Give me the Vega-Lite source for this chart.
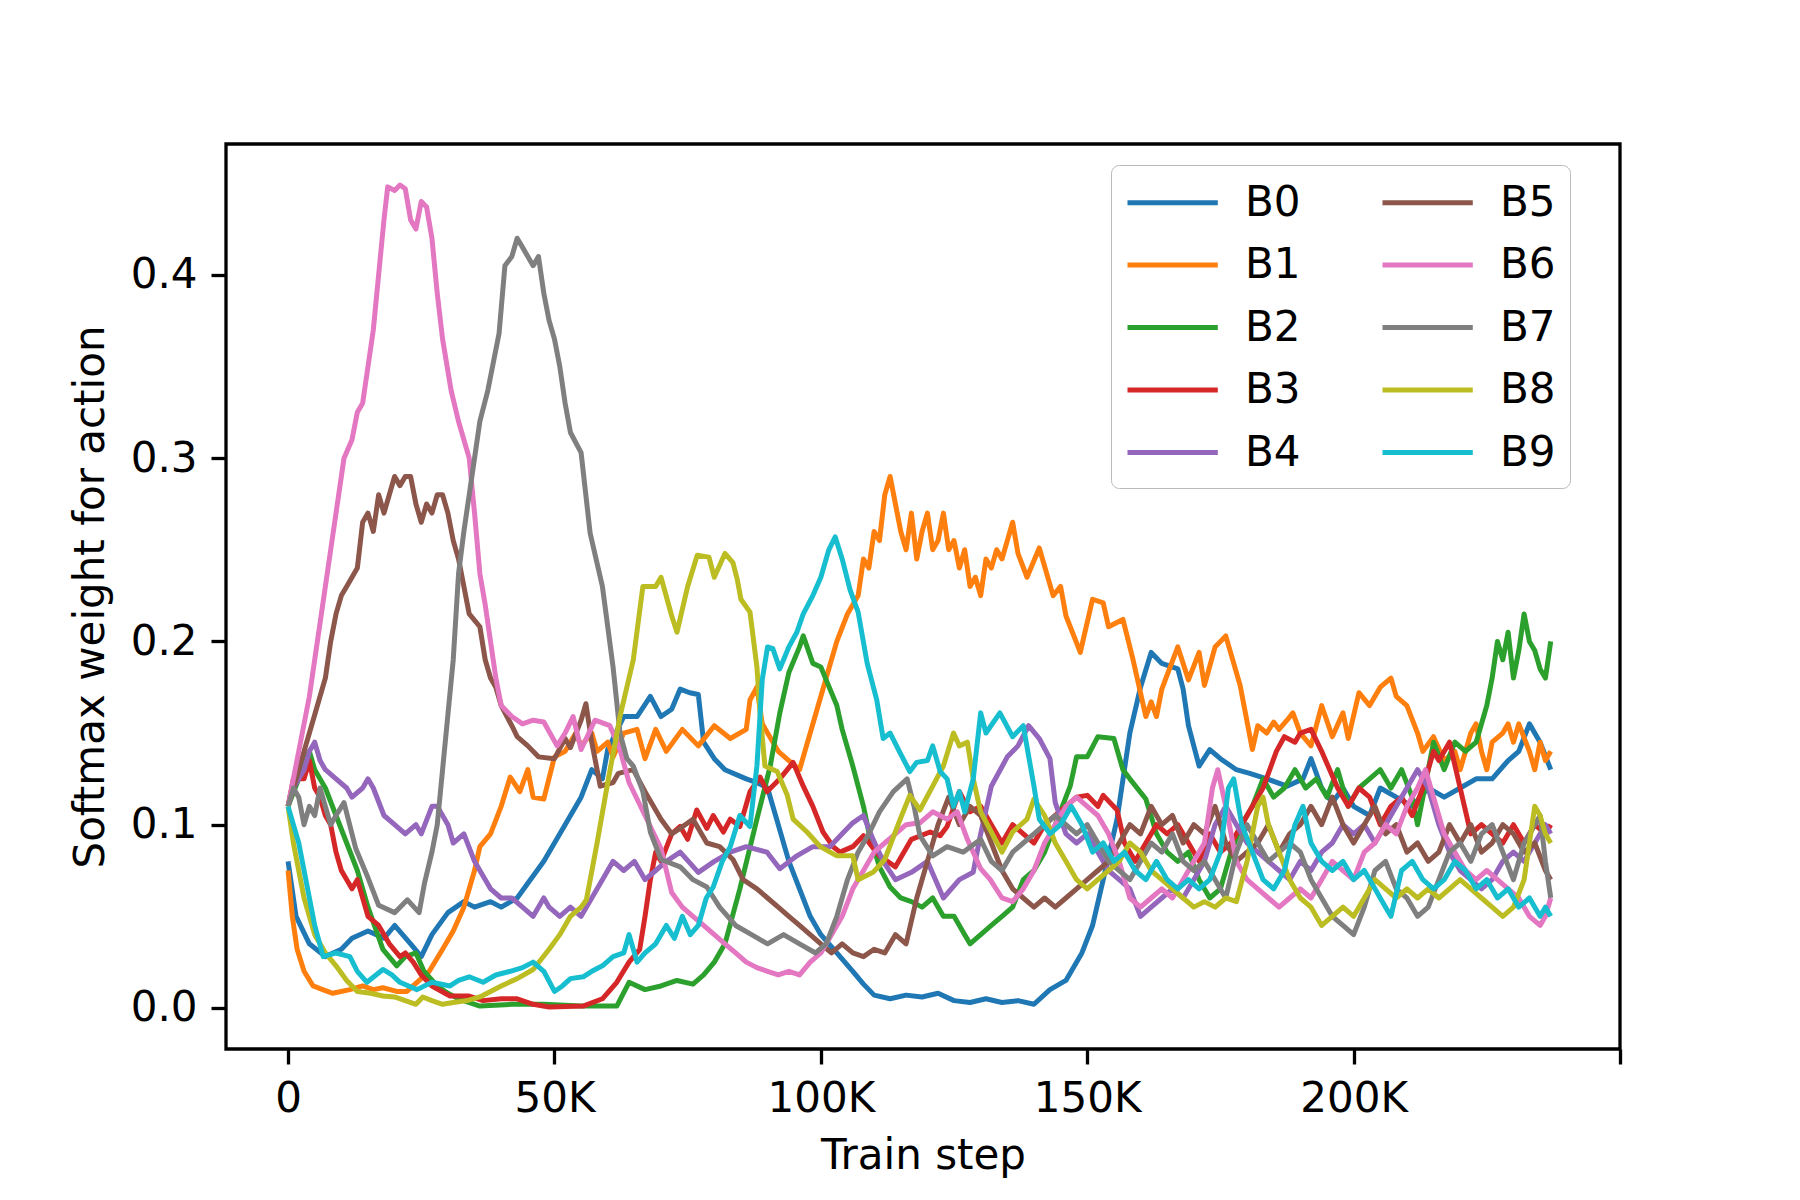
{
  "$schema": "https://vega.github.io/schema/vega-lite/v6.json",
  "width": 1394,
  "height": 905,
  "autosize": {"type": "none"},
  "padding": {"left": 226, "top": 144, "right": 180, "bottom": 151},
  "background": "white",
  "config": {
    "font": "DejaVu Sans",
    "view": {"stroke": "black", "strokeWidth": 3.3},
    "axis": {
      "grid": false,
      "domain": false,
      "tickColor": "black",
      "tickWidth": 3.3,
      "tickSize": 15,
      "labelFontSize": 42,
      "labelColor": "black",
      "labelPadding": 14,
      "titleFontSize": 42,
      "titleFontWeight": "normal",
      "titleColor": "black"
    },
    "legend": {
      "labelFontSize": 42,
      "labelColor": "black"
    }
  },
  "datasets": {
    "weights": [
      {"action":"B0","step":0,"weight":0.08},{"action":"B0","step":1.5,"weight":0.05},{"action":"B0","step":4,"weight":0.035},{"action":"B0","step":7,"weight":0.028},{"action":"B0","step":10,"weight":0.032},{"action":"B0","step":12,"weight":0.038},{"action":"B0","step":15,"weight":0.042},{"action":"B0","step":18,"weight":0.038},{"action":"B0","step":20,"weight":0.045},{"action":"B0","step":23,"weight":0.035},{"action":"B0","step":25,"weight":0.028},{"action":"B0","step":27,"weight":0.04},{"action":"B0","step":30,"weight":0.052},{"action":"B0","step":33,"weight":0.058},{"action":"B0","step":35,"weight":0.055},{"action":"B0","step":38,"weight":0.058},{"action":"B0","step":40,"weight":0.055},{"action":"B0","step":43,"weight":0.06},{"action":"B0","step":45,"weight":0.068},{"action":"B0","step":48,"weight":0.08},{"action":"B0","step":50,"weight":0.09},{"action":"B0","step":52,"weight":0.1},{"action":"B0","step":55,"weight":0.115},{"action":"B0","step":57,"weight":0.13},{"action":"B0","step":59,"weight":0.125},{"action":"B0","step":60,"weight":0.141},{"action":"B0","step":63,"weight":0.159},{"action":"B0","step":65.5,"weight":0.159},{"action":"B0","step":68,"weight":0.17},{"action":"B0","step":70,"weight":0.159},{"action":"B0","step":72,"weight":0.163},{"action":"B0","step":73.6,"weight":0.174},{"action":"B0","step":75.4,"weight":0.172},{"action":"B0","step":77,"weight":0.171},{"action":"B0","step":78,"weight":0.145},{"action":"B0","step":80,"weight":0.136},{"action":"B0","step":82,"weight":0.13},{"action":"B0","step":86,"weight":0.125},{"action":"B0","step":88,"weight":0.123},{"action":"B0","step":90,"weight":0.12},{"action":"B0","step":92,"weight":0.1},{"action":"B0","step":94,"weight":0.08},{"action":"B0","step":96,"weight":0.065},{"action":"B0","step":98,"weight":0.05},{"action":"B0","step":100,"weight":0.04},{"action":"B0","step":103,"weight":0.03},{"action":"B0","step":106,"weight":0.02},{"action":"B0","step":108,"weight":0.013},{"action":"B0","step":110,"weight":0.007},{"action":"B0","step":113,"weight":0.005},{"action":"B0","step":116,"weight":0.007},{"action":"B0","step":119,"weight":0.006},{"action":"B0","step":122,"weight":0.008},{"action":"B0","step":125,"weight":0.004},{"action":"B0","step":128,"weight":0.003},{"action":"B0","step":131,"weight":0.005},{"action":"B0","step":134,"weight":0.003},{"action":"B0","step":137,"weight":0.004},{"action":"B0","step":140,"weight":0.002},{"action":"B0","step":143,"weight":0.01},{"action":"B0","step":146,"weight":0.015},{"action":"B0","step":149,"weight":0.03},{"action":"B0","step":151,"weight":0.045},{"action":"B0","step":153,"weight":0.07},{"action":"B0","step":155.6,"weight":0.103},{"action":"B0","step":158,"weight":0.15},{"action":"B0","step":160,"weight":0.175},{"action":"B0","step":162,"weight":0.194},{"action":"B0","step":164,"weight":0.188},{"action":"B0","step":167,"weight":0.185},{"action":"B0","step":168,"weight":0.174},{"action":"B0","step":169,"weight":0.154},{"action":"B0","step":171,"weight":0.132},{"action":"B0","step":173,"weight":0.141},{"action":"B0","step":175,"weight":0.136},{"action":"B0","step":178,"weight":0.13},{"action":"B0","step":180.5,"weight":0.128},{"action":"B0","step":183.7,"weight":0.125},{"action":"B0","step":187.5,"weight":0.121},{"action":"B0","step":190.5,"weight":0.125},{"action":"B0","step":192,"weight":0.136},{"action":"B0","step":194,"weight":0.12},{"action":"B0","step":196,"weight":0.112},{"action":"B0","step":198,"weight":0.12},{"action":"B0","step":200,"weight":0.11},{"action":"B0","step":203,"weight":0.105},{"action":"B0","step":205,"weight":0.12},{"action":"B0","step":208,"weight":0.115},{"action":"B0","step":211,"weight":0.11},{"action":"B0","step":214,"weight":0.12},{"action":"B0","step":217,"weight":0.115},{"action":"B0","step":220,"weight":0.12},{"action":"B0","step":223,"weight":0.125},{"action":"B0","step":226,"weight":0.125},{"action":"B0","step":229,"weight":0.135},{"action":"B0","step":231,"weight":0.14},{"action":"B0","step":233,"weight":0.155},{"action":"B0","step":235,"weight":0.145},{"action":"B0","step":237,"weight":0.13},

      {"action":"B1","step":0,"weight":0.075},{"action":"B1","step":0.8,"weight":0.05},{"action":"B1","step":1.7,"weight":0.032},{"action":"B1","step":3,"weight":0.02},{"action":"B1","step":4.7,"weight":0.012},{"action":"B1","step":6.5,"weight":0.01},{"action":"B1","step":8.4,"weight":0.008},{"action":"B1","step":11.6,"weight":0.01},{"action":"B1","step":14,"weight":0.012},{"action":"B1","step":16,"weight":0.01},{"action":"B1","step":17.8,"weight":0.011},{"action":"B1","step":20.4,"weight":0.009},{"action":"B1","step":22.3,"weight":0.009},{"action":"B1","step":24.2,"weight":0.014},{"action":"B1","step":26.5,"weight":0.02},{"action":"B1","step":29,"weight":0.032},{"action":"B1","step":31,"weight":0.042},{"action":"B1","step":33,"weight":0.055},{"action":"B1","step":35,"weight":0.075},{"action":"B1","step":36,"weight":0.088},{"action":"B1","step":38,"weight":0.095},{"action":"B1","step":40,"weight":0.11},{"action":"B1","step":41.7,"weight":0.126},{"action":"B1","step":43.5,"weight":0.118},{"action":"B1","step":45,"weight":0.13},{"action":"B1","step":46,"weight":0.115},{"action":"B1","step":48,"weight":0.114},{"action":"B1","step":50,"weight":0.137},{"action":"B1","step":52,"weight":0.14},{"action":"B1","step":54,"weight":0.15},{"action":"B1","step":55,"weight":0.143},{"action":"B1","step":57,"weight":0.15},{"action":"B1","step":58,"weight":0.14},{"action":"B1","step":60,"weight":0.145},{"action":"B1","step":61,"weight":0.137},{"action":"B1","step":63,"weight":0.15},{"action":"B1","step":65.5,"weight":0.152},{"action":"B1","step":67,"weight":0.136},{"action":"B1","step":69,"weight":0.152},{"action":"B1","step":71,"weight":0.14},{"action":"B1","step":74,"weight":0.152},{"action":"B1","step":77,"weight":0.143},{"action":"B1","step":80,"weight":0.154},{"action":"B1","step":83,"weight":0.147},{"action":"B1","step":86,"weight":0.152},{"action":"B1","step":86.7,"weight":0.168},{"action":"B1","step":88,"weight":0.175},{"action":"B1","step":89,"weight":0.155},{"action":"B1","step":90,"weight":0.15},{"action":"B1","step":92,"weight":0.14},{"action":"B1","step":94,"weight":0.135},{"action":"B1","step":96,"weight":0.13},{"action":"B1","step":97,"weight":0.14},{"action":"B1","step":99,"weight":0.16},{"action":"B1","step":101,"weight":0.18},{"action":"B1","step":103,"weight":0.2},{"action":"B1","step":105,"weight":0.215},{"action":"B1","step":107,"weight":0.225},{"action":"B1","step":108,"weight":0.245},{"action":"B1","step":109,"weight":0.24},{"action":"B1","step":110,"weight":0.26},{"action":"B1","step":111,"weight":0.255},{"action":"B1","step":112,"weight":0.28},{"action":"B1","step":113,"weight":0.29},{"action":"B1","step":114,"weight":0.275},{"action":"B1","step":115,"weight":0.26},{"action":"B1","step":116,"weight":0.25},{"action":"B1","step":117,"weight":0.27},{"action":"B1","step":118,"weight":0.245},{"action":"B1","step":119,"weight":0.26},{"action":"B1","step":120,"weight":0.27},{"action":"B1","step":121,"weight":0.25},{"action":"B1","step":122,"weight":0.255},{"action":"B1","step":123,"weight":0.27},{"action":"B1","step":124,"weight":0.25},{"action":"B1","step":125,"weight":0.255},{"action":"B1","step":126,"weight":0.24},{"action":"B1","step":127,"weight":0.25},{"action":"B1","step":128,"weight":0.23},{"action":"B1","step":129,"weight":0.235},{"action":"B1","step":130,"weight":0.225},{"action":"B1","step":131,"weight":0.245},{"action":"B1","step":132,"weight":0.24},{"action":"B1","step":133,"weight":0.25},{"action":"B1","step":134,"weight":0.245},{"action":"B1","step":135,"weight":0.255},{"action":"B1","step":136,"weight":0.265},{"action":"B1","step":137,"weight":0.248},{"action":"B1","step":138.7,"weight":0.235},{"action":"B1","step":141,"weight":0.251},{"action":"B1","step":143.6,"weight":0.225},{"action":"B1","step":145,"weight":0.23},{"action":"B1","step":146,"weight":0.214},{"action":"B1","step":148.7,"weight":0.194},{"action":"B1","step":151,"weight":0.223},{"action":"B1","step":153,"weight":0.221},{"action":"B1","step":154,"weight":0.208},{"action":"B1","step":156.7,"weight":0.212},{"action":"B1","step":158.6,"weight":0.19},{"action":"B1","step":161,"weight":0.159},{"action":"B1","step":162,"weight":0.167},{"action":"B1","step":163,"weight":0.159},{"action":"B1","step":164,"weight":0.174},{"action":"B1","step":167,"weight":0.197},{"action":"B1","step":169,"weight":0.179},{"action":"B1","step":171,"weight":0.194},{"action":"B1","step":172,"weight":0.176},{"action":"B1","step":174,"weight":0.197},{"action":"B1","step":176,"weight":0.203},{"action":"B1","step":178.7,"weight":0.176},{"action":"B1","step":181,"weight":0.141},{"action":"B1","step":182,"weight":0.154},{"action":"B1","step":183.7,"weight":0.15},{"action":"B1","step":185,"weight":0.156},{"action":"B1","step":186,"weight":0.152},{"action":"B1","step":187.5,"weight":0.157},{"action":"B1","step":188.6,"weight":0.161},{"action":"B1","step":190,"weight":0.15},{"action":"B1","step":192,"weight":0.143},{"action":"B1","step":194,"weight":0.165},{"action":"B1","step":196,"weight":0.148},{"action":"B1","step":198,"weight":0.161},{"action":"B1","step":199,"weight":0.147},{"action":"B1","step":201,"weight":0.172},{"action":"B1","step":203,"weight":0.165},{"action":"B1","step":205,"weight":0.175},{"action":"B1","step":207,"weight":0.18},{"action":"B1","step":208,"weight":0.17},{"action":"B1","step":210,"weight":0.165},{"action":"B1","step":212,"weight":0.15},{"action":"B1","step":213,"weight":0.14},{"action":"B1","step":215,"weight":0.148},{"action":"B1","step":217,"weight":0.135},{"action":"B1","step":219,"weight":0.14},{"action":"B1","step":220,"weight":0.13},{"action":"B1","step":222,"weight":0.15},{"action":"B1","step":223,"weight":0.155},{"action":"B1","step":224,"weight":0.14},{"action":"B1","step":225,"weight":0.13},{"action":"B1","step":226,"weight":0.145},{"action":"B1","step":228,"weight":0.15},{"action":"B1","step":229,"weight":0.155},{"action":"B1","step":230,"weight":0.145},{"action":"B1","step":231,"weight":0.155},{"action":"B1","step":233,"weight":0.14},{"action":"B1","step":234,"weight":0.13},{"action":"B1","step":235,"weight":0.145},{"action":"B1","step":236,"weight":0.135},{"action":"B1","step":237,"weight":0.14},

      {"action":"B2","step":0,"weight":0.11},{"action":"B2","step":2,"weight":0.125},{"action":"B2","step":3,"weight":0.135},{"action":"B2","step":4,"weight":0.14},{"action":"B2","step":5,"weight":0.13},{"action":"B2","step":7,"weight":0.12},{"action":"B2","step":9,"weight":0.105},{"action":"B2","step":11,"weight":0.09},{"action":"B2","step":13,"weight":0.075},{"action":"B2","step":15,"weight":0.055},{"action":"B2","step":17.8,"weight":0.032},{"action":"B2","step":20.4,"weight":0.023},{"action":"B2","step":22,"weight":0.028},{"action":"B2","step":24,"weight":0.03},{"action":"B2","step":25.5,"weight":0.02},{"action":"B2","step":28,"weight":0.012},{"action":"B2","step":30,"weight":0.008},{"action":"B2","step":32,"weight":0.005},{"action":"B2","step":36,"weight":0.001},{"action":"B2","step":42,"weight":0.002},{"action":"B2","step":48,"weight":0.002},{"action":"B2","step":55,"weight":0.001},{"action":"B2","step":61.7,"weight":0.001},{"action":"B2","step":64,"weight":0.014},{"action":"B2","step":67,"weight":0.01},{"action":"B2","step":70,"weight":0.012},{"action":"B2","step":73,"weight":0.015},{"action":"B2","step":76,"weight":0.013},{"action":"B2","step":78,"weight":0.018},{"action":"B2","step":80,"weight":0.025},{"action":"B2","step":82,"weight":0.035},{"action":"B2","step":84.8,"weight":0.065},{"action":"B2","step":88,"weight":0.103},{"action":"B2","step":90.5,"weight":0.132},{"action":"B2","step":92.3,"weight":0.161},{"action":"B2","step":94,"weight":0.183},{"action":"B2","step":96,"weight":0.197},{"action":"B2","step":96.7,"weight":0.203},{"action":"B2","step":98.5,"weight":0.188},{"action":"B2","step":100,"weight":0.186},{"action":"B2","step":101,"weight":0.179},{"action":"B2","step":103,"weight":0.165},{"action":"B2","step":104,"weight":0.152},{"action":"B2","step":106,"weight":0.132},{"action":"B2","step":108,"weight":0.11},{"action":"B2","step":109,"weight":0.096},{"action":"B2","step":111,"weight":0.077},{"action":"B2","step":113,"weight":0.066},{"action":"B2","step":115,"weight":0.06},{"action":"B2","step":117,"weight":0.058},{"action":"B2","step":119,"weight":0.055},{"action":"B2","step":121,"weight":0.06},{"action":"B2","step":123,"weight":0.05},{"action":"B2","step":125,"weight":0.05},{"action":"B2","step":127,"weight":0.04},{"action":"B2","step":128,"weight":0.035},{"action":"B2","step":130,"weight":0.04},{"action":"B2","step":132,"weight":0.045},{"action":"B2","step":134,"weight":0.05},{"action":"B2","step":136,"weight":0.055},{"action":"B2","step":138,"weight":0.07},{"action":"B2","step":140,"weight":0.075},{"action":"B2","step":142,"weight":0.085},{"action":"B2","step":144,"weight":0.1},{"action":"B2","step":146.8,"weight":0.121},{"action":"B2","step":148,"weight":0.137},{"action":"B2","step":150,"weight":0.137},{"action":"B2","step":152,"weight":0.148},{"action":"B2","step":155,"weight":0.147},{"action":"B2","step":156.7,"weight":0.13},{"action":"B2","step":158,"weight":0.125},{"action":"B2","step":161,"weight":0.114},{"action":"B2","step":163,"weight":0.095},{"action":"B2","step":165,"weight":0.085},{"action":"B2","step":167,"weight":0.08},{"action":"B2","step":169,"weight":0.085},{"action":"B2","step":171,"weight":0.07},{"action":"B2","step":173,"weight":0.06},{"action":"B2","step":175,"weight":0.065},{"action":"B2","step":177,"weight":0.085},{"action":"B2","step":179,"weight":0.1},{"action":"B2","step":181,"weight":0.11},{"action":"B2","step":183,"weight":0.125},{"action":"B2","step":185,"weight":0.115},{"action":"B2","step":187,"weight":0.12},{"action":"B2","step":189,"weight":0.13},{"action":"B2","step":191,"weight":0.12},{"action":"B2","step":193,"weight":0.125},{"action":"B2","step":195,"weight":0.115},{"action":"B2","step":197,"weight":0.13},{"action":"B2","step":199,"weight":0.11},{"action":"B2","step":201,"weight":0.12},{"action":"B2","step":203,"weight":0.125},{"action":"B2","step":205,"weight":0.13},{"action":"B2","step":207,"weight":0.12},{"action":"B2","step":209,"weight":0.13},{"action":"B2","step":211,"weight":0.115},{"action":"B2","step":212,"weight":0.1},{"action":"B2","step":214,"weight":0.13},{"action":"B2","step":215,"weight":0.145},{"action":"B2","step":217,"weight":0.13},{"action":"B2","step":219,"weight":0.145},{"action":"B2","step":221,"weight":0.14},{"action":"B2","step":223,"weight":0.145},{"action":"B2","step":225,"weight":0.165},{"action":"B2","step":226,"weight":0.18},{"action":"B2","step":227,"weight":0.2},{"action":"B2","step":228,"weight":0.19},{"action":"B2","step":229,"weight":0.205},{"action":"B2","step":230,"weight":0.18},{"action":"B2","step":231,"weight":0.195},{"action":"B2","step":232,"weight":0.215},{"action":"B2","step":233,"weight":0.2},{"action":"B2","step":234,"weight":0.195},{"action":"B2","step":235,"weight":0.185},{"action":"B2","step":236,"weight":0.18},{"action":"B2","step":237,"weight":0.2},

      {"action":"B3","step":0,"weight":0.11},{"action":"B3","step":1,"weight":0.125},{"action":"B3","step":3,"weight":0.125},{"action":"B3","step":4,"weight":0.135},{"action":"B3","step":5,"weight":0.12},{"action":"B3","step":6,"weight":0.115},{"action":"B3","step":7,"weight":0.105},{"action":"B3","step":8,"weight":0.1},{"action":"B3","step":9,"weight":0.085},{"action":"B3","step":10,"weight":0.075},{"action":"B3","step":12,"weight":0.065},{"action":"B3","step":13,"weight":0.07},{"action":"B3","step":15,"weight":0.05},{"action":"B3","step":17,"weight":0.045},{"action":"B3","step":19,"weight":0.035},{"action":"B3","step":21,"weight":0.028},{"action":"B3","step":22,"weight":0.03},{"action":"B3","step":23.5,"weight":0.025},{"action":"B3","step":25,"weight":0.018},{"action":"B3","step":27,"weight":0.012},{"action":"B3","step":30.4,"weight":0.0065},{"action":"B3","step":34,"weight":0.0065},{"action":"B3","step":36.6,"weight":0.004},{"action":"B3","step":40,"weight":0.005},{"action":"B3","step":43,"weight":0.005},{"action":"B3","step":46,"weight":0.002},{"action":"B3","step":49,"weight":0.0005},{"action":"B3","step":55.4,"weight":0.001},{"action":"B3","step":59,"weight":0.005},{"action":"B3","step":61.7,"weight":0.014},{"action":"B3","step":64,"weight":0.025},{"action":"B3","step":66,"weight":0.032},{"action":"B3","step":67,"weight":0.05},{"action":"B3","step":68,"weight":0.07},{"action":"B3","step":69,"weight":0.085},{"action":"B3","step":70,"weight":0.08},{"action":"B3","step":72,"weight":0.095},{"action":"B3","step":73.6,"weight":0.099},{"action":"B3","step":75,"weight":0.092},{"action":"B3","step":76.7,"weight":0.108},{"action":"B3","step":78.6,"weight":0.098},{"action":"B3","step":79.8,"weight":0.105},{"action":"B3","step":81.7,"weight":0.096},{"action":"B3","step":83,"weight":0.103},{"action":"B3","step":84.8,"weight":0.099},{"action":"B3","step":86.7,"weight":0.118},{"action":"B3","step":88.6,"weight":0.126},{"action":"B3","step":89.9,"weight":0.118},{"action":"B3","step":92.3,"weight":0.125},{"action":"B3","step":94.8,"weight":0.134},{"action":"B3","step":96.7,"weight":0.121},{"action":"B3","step":98.5,"weight":0.11},{"action":"B3","step":100.4,"weight":0.096},{"action":"B3","step":102.3,"weight":0.088},{"action":"B3","step":103.6,"weight":0.085},{"action":"B3","step":106,"weight":0.088},{"action":"B3","step":108,"weight":0.094},{"action":"B3","step":111,"weight":0.083},{"action":"B3","step":114,"weight":0.077},{"action":"B3","step":117,"weight":0.092},{"action":"B3","step":120.5,"weight":0.096},{"action":"B3","step":122.4,"weight":0.094},{"action":"B3","step":123.7,"weight":0.099},{"action":"B3","step":126,"weight":0.118},{"action":"B3","step":128,"weight":0.107},{"action":"B3","step":130,"weight":0.11},{"action":"B3","step":132,"weight":0.1},{"action":"B3","step":134,"weight":0.09},{"action":"B3","step":136,"weight":0.1},{"action":"B3","step":138,"weight":0.095},{"action":"B3","step":140,"weight":0.09},{"action":"B3","step":142,"weight":0.1},{"action":"B3","step":144,"weight":0.105},{"action":"B3","step":146,"weight":0.11},{"action":"B3","step":148,"weight":0.115},{"action":"B3","step":150,"weight":0.116},{"action":"B3","step":152,"weight":0.11},{"action":"B3","step":153,"weight":0.116},{"action":"B3","step":155.6,"weight":0.108},{"action":"B3","step":157,"weight":0.09},{"action":"B3","step":159,"weight":0.08},{"action":"B3","step":161,"weight":0.09},{"action":"B3","step":163,"weight":0.1},{"action":"B3","step":165,"weight":0.095},{"action":"B3","step":167,"weight":0.1},{"action":"B3","step":169,"weight":0.09},{"action":"B3","step":171,"weight":0.08},{"action":"B3","step":173,"weight":0.095},{"action":"B3","step":175,"weight":0.085},{"action":"B3","step":177,"weight":0.09},{"action":"B3","step":179,"weight":0.1},{"action":"B3","step":181,"weight":0.11},{"action":"B3","step":183,"weight":0.12},{"action":"B3","step":185.5,"weight":0.14},{"action":"B3","step":187,"weight":0.148},{"action":"B3","step":189,"weight":0.145},{"action":"B3","step":190,"weight":0.15},{"action":"B3","step":192,"weight":0.152},{"action":"B3","step":194,"weight":0.14},{"action":"B3","step":197,"weight":0.12},{"action":"B3","step":199,"weight":0.11},{"action":"B3","step":201,"weight":0.12},{"action":"B3","step":203,"weight":0.115},{"action":"B3","step":205,"weight":0.1},{"action":"B3","step":207,"weight":0.11},{"action":"B3","step":209,"weight":0.115},{"action":"B3","step":211,"weight":0.105},{"action":"B3","step":213,"weight":0.12},{"action":"B3","step":215,"weight":0.14},{"action":"B3","step":216,"weight":0.135},{"action":"B3","step":218,"weight":0.145},{"action":"B3","step":220,"weight":0.12},{"action":"B3","step":222,"weight":0.095},{"action":"B3","step":224,"weight":0.1},{"action":"B3","step":226,"weight":0.095},{"action":"B3","step":228,"weight":0.09},{"action":"B3","step":230,"weight":0.1},{"action":"B3","step":232,"weight":0.09},{"action":"B3","step":234,"weight":0.1},{"action":"B3","step":236,"weight":0.095},{"action":"B3","step":237,"weight":0.1},

      {"action":"B4","step":0,"weight":0.11},{"action":"B4","step":1,"weight":0.12},{"action":"B4","step":3,"weight":0.13},{"action":"B4","step":4,"weight":0.14},{"action":"B4","step":5,"weight":0.145},{"action":"B4","step":6,"weight":0.135},{"action":"B4","step":7,"weight":0.13},{"action":"B4","step":9,"weight":0.125},{"action":"B4","step":11,"weight":0.12},{"action":"B4","step":12,"weight":0.115},{"action":"B4","step":14,"weight":0.12},{"action":"B4","step":15,"weight":0.125},{"action":"B4","step":16,"weight":0.12},{"action":"B4","step":18,"weight":0.105},{"action":"B4","step":20,"weight":0.1},{"action":"B4","step":22,"weight":0.095},{"action":"B4","step":24,"weight":0.1},{"action":"B4","step":25,"weight":0.095},{"action":"B4","step":27,"weight":0.11},{"action":"B4","step":28,"weight":0.11},{"action":"B4","step":30,"weight":0.1},{"action":"B4","step":31,"weight":0.09},{"action":"B4","step":33,"weight":0.095},{"action":"B4","step":35,"weight":0.08},{"action":"B4","step":36,"weight":0.075},{"action":"B4","step":38,"weight":0.065},{"action":"B4","step":40,"weight":0.06},{"action":"B4","step":42,"weight":0.06},{"action":"B4","step":44,"weight":0.055},{"action":"B4","step":46,"weight":0.05},{"action":"B4","step":48,"weight":0.06},{"action":"B4","step":49,"weight":0.055},{"action":"B4","step":51,"weight":0.05},{"action":"B4","step":53,"weight":0.055},{"action":"B4","step":55,"weight":0.05},{"action":"B4","step":57,"weight":0.06},{"action":"B4","step":59,"weight":0.07},{"action":"B4","step":61,"weight":0.08},{"action":"B4","step":63,"weight":0.075},{"action":"B4","step":65,"weight":0.08},{"action":"B4","step":67,"weight":0.07},{"action":"B4","step":69,"weight":0.075},{"action":"B4","step":71,"weight":0.08},{"action":"B4","step":73.6,"weight":0.085},{"action":"B4","step":77,"weight":0.074},{"action":"B4","step":80,"weight":0.08},{"action":"B4","step":83,"weight":0.085},{"action":"B4","step":86,"weight":0.088},{"action":"B4","step":89.9,"weight":0.085},{"action":"B4","step":92.3,"weight":0.076},{"action":"B4","step":95.5,"weight":0.083},{"action":"B4","step":98.5,"weight":0.088},{"action":"B4","step":101.7,"weight":0.088},{"action":"B4","step":104,"weight":0.095},{"action":"B4","step":106,"weight":0.101},{"action":"B4","step":108,"weight":0.105},{"action":"B4","step":109.8,"weight":0.092},{"action":"B4","step":111.7,"weight":0.08},{"action":"B4","step":114,"weight":0.07},{"action":"B4","step":117,"weight":0.074},{"action":"B4","step":120,"weight":0.08},{"action":"B4","step":123,"weight":0.06},{"action":"B4","step":126,"weight":0.07},{"action":"B4","step":128.6,"weight":0.074},{"action":"B4","step":130,"weight":0.095},{"action":"B4","step":132,"weight":0.121},{"action":"B4","step":135,"weight":0.137},{"action":"B4","step":137,"weight":0.143},{"action":"B4","step":139,"weight":0.154},{"action":"B4","step":141,"weight":0.147},{"action":"B4","step":143,"weight":0.136},{"action":"B4","step":144,"weight":0.112},{"action":"B4","step":146,"weight":0.095},{"action":"B4","step":148,"weight":0.09},{"action":"B4","step":150,"weight":0.095},{"action":"B4","step":152,"weight":0.085},{"action":"B4","step":154,"weight":0.075},{"action":"B4","step":156,"weight":0.07},{"action":"B4","step":158,"weight":0.065},{"action":"B4","step":160,"weight":0.05},{"action":"B4","step":162,"weight":0.055},{"action":"B4","step":164,"weight":0.06},{"action":"B4","step":166,"weight":0.065},{"action":"B4","step":168,"weight":0.06},{"action":"B4","step":170,"weight":0.07},{"action":"B4","step":172,"weight":0.08},{"action":"B4","step":174,"weight":0.1},{"action":"B4","step":176,"weight":0.11},{"action":"B4","step":178,"weight":0.1},{"action":"B4","step":180,"weight":0.09},{"action":"B4","step":182,"weight":0.085},{"action":"B4","step":184,"weight":0.08},{"action":"B4","step":186,"weight":0.075},{"action":"B4","step":188,"weight":0.07},{"action":"B4","step":190,"weight":0.08},{"action":"B4","step":192,"weight":0.075},{"action":"B4","step":194,"weight":0.085},{"action":"B4","step":196,"weight":0.09},{"action":"B4","step":198,"weight":0.1},{"action":"B4","step":200,"weight":0.095},{"action":"B4","step":202,"weight":0.1},{"action":"B4","step":204,"weight":0.09},{"action":"B4","step":206,"weight":0.1},{"action":"B4","step":208,"weight":0.11},{"action":"B4","step":210,"weight":0.12},{"action":"B4","step":212,"weight":0.13},{"action":"B4","step":214,"weight":0.12},{"action":"B4","step":216,"weight":0.1},{"action":"B4","step":218,"weight":0.085},{"action":"B4","step":220,"weight":0.075},{"action":"B4","step":222,"weight":0.07},{"action":"B4","step":224,"weight":0.065},{"action":"B4","step":226,"weight":0.07},{"action":"B4","step":228,"weight":0.08},{"action":"B4","step":230,"weight":0.085},{"action":"B4","step":232,"weight":0.08},{"action":"B4","step":234,"weight":0.09},{"action":"B4","step":236,"weight":0.1},{"action":"B4","step":237,"weight":0.095},

      {"action":"B5","step":0,"weight":0.11},{"action":"B5","step":2,"weight":0.13},{"action":"B5","step":4,"weight":0.15},{"action":"B5","step":5,"weight":0.16},{"action":"B5","step":7,"weight":0.18},{"action":"B5","step":8,"weight":0.2},{"action":"B5","step":9,"weight":0.215},{"action":"B5","step":10,"weight":0.225},{"action":"B5","step":11,"weight":0.23},{"action":"B5","step":12,"weight":0.235},{"action":"B5","step":13,"weight":0.24},{"action":"B5","step":14,"weight":0.265},{"action":"B5","step":15,"weight":0.27},{"action":"B5","step":16,"weight":0.26},{"action":"B5","step":17,"weight":0.28},{"action":"B5","step":18,"weight":0.27},{"action":"B5","step":19,"weight":0.28},{"action":"B5","step":20,"weight":0.29},{"action":"B5","step":21,"weight":0.285},{"action":"B5","step":22,"weight":0.29},{"action":"B5","step":23,"weight":0.29},{"action":"B5","step":24,"weight":0.275},{"action":"B5","step":25,"weight":0.265},{"action":"B5","step":26,"weight":0.275},{"action":"B5","step":27,"weight":0.27},{"action":"B5","step":28,"weight":0.28},{"action":"B5","step":29,"weight":0.28},{"action":"B5","step":30,"weight":0.27},{"action":"B5","step":31,"weight":0.255},{"action":"B5","step":32,"weight":0.245},{"action":"B5","step":33,"weight":0.23},{"action":"B5","step":34,"weight":0.215},{"action":"B5","step":36,"weight":0.208},{"action":"B5","step":37,"weight":0.19},{"action":"B5","step":38,"weight":0.18},{"action":"B5","step":39,"weight":0.175},{"action":"B5","step":40,"weight":0.165},{"action":"B5","step":42,"weight":0.154},{"action":"B5","step":43,"weight":0.148},{"action":"B5","step":45,"weight":0.143},{"action":"B5","step":47,"weight":0.137},{"action":"B5","step":50,"weight":0.136},{"action":"B5","step":52,"weight":0.147},{"action":"B5","step":53,"weight":0.142},{"action":"B5","step":55,"weight":0.157},{"action":"B5","step":55.9,"weight":0.166},{"action":"B5","step":57,"weight":0.145},{"action":"B5","step":58.6,"weight":0.121},{"action":"B5","step":61,"weight":0.123},{"action":"B5","step":62,"weight":0.128},{"action":"B5","step":64.8,"weight":0.13},{"action":"B5","step":67,"weight":0.118},{"action":"B5","step":70,"weight":0.103},{"action":"B5","step":72,"weight":0.095},{"action":"B5","step":73.6,"weight":0.098},{"action":"B5","step":76,"weight":0.103},{"action":"B5","step":78.6,"weight":0.09},{"action":"B5","step":81,"weight":0.088},{"action":"B5","step":83.5,"weight":0.081},{"action":"B5","step":85.4,"weight":0.07},{"action":"B5","step":88,"weight":0.065},{"action":"B5","step":90,"weight":0.06},{"action":"B5","step":92,"weight":0.055},{"action":"B5","step":94,"weight":0.05},{"action":"B5","step":96,"weight":0.045},{"action":"B5","step":98,"weight":0.04},{"action":"B5","step":100,"weight":0.035},{"action":"B5","step":102,"weight":0.03},{"action":"B5","step":104,"weight":0.035},{"action":"B5","step":106,"weight":0.03},{"action":"B5","step":108,"weight":0.028},{"action":"B5","step":110,"weight":0.032},{"action":"B5","step":112,"weight":0.03},{"action":"B5","step":114,"weight":0.04},{"action":"B5","step":116,"weight":0.035},{"action":"B5","step":118,"weight":0.06},{"action":"B5","step":120,"weight":0.08},{"action":"B5","step":122,"weight":0.1},{"action":"B5","step":124,"weight":0.115},{"action":"B5","step":126,"weight":0.1},{"action":"B5","step":128,"weight":0.11},{"action":"B5","step":130,"weight":0.105},{"action":"B5","step":132,"weight":0.09},{"action":"B5","step":134,"weight":0.075},{"action":"B5","step":136,"weight":0.065},{"action":"B5","step":138,"weight":0.06},{"action":"B5","step":140,"weight":0.055},{"action":"B5","step":142,"weight":0.06},{"action":"B5","step":144,"weight":0.055},{"action":"B5","step":146,"weight":0.06},{"action":"B5","step":148,"weight":0.065},{"action":"B5","step":150,"weight":0.07},{"action":"B5","step":152,"weight":0.075},{"action":"B5","step":154,"weight":0.08},{"action":"B5","step":156,"weight":0.09},{"action":"B5","step":158,"weight":0.1},{"action":"B5","step":160,"weight":0.095},{"action":"B5","step":162,"weight":0.11},{"action":"B5","step":164,"weight":0.1},{"action":"B5","step":166,"weight":0.105},{"action":"B5","step":168,"weight":0.09},{"action":"B5","step":170,"weight":0.1},{"action":"B5","step":172,"weight":0.095},{"action":"B5","step":174,"weight":0.11},{"action":"B5","step":176,"weight":0.09},{"action":"B5","step":178,"weight":0.08},{"action":"B5","step":180,"weight":0.085},{"action":"B5","step":182,"weight":0.09},{"action":"B5","step":184,"weight":0.1},{"action":"B5","step":186,"weight":0.085},{"action":"B5","step":188,"weight":0.095},{"action":"B5","step":190,"weight":0.1},{"action":"B5","step":192,"weight":0.11},{"action":"B5","step":194,"weight":0.1},{"action":"B5","step":196,"weight":0.115},{"action":"B5","step":198,"weight":0.1},{"action":"B5","step":200,"weight":0.09},{"action":"B5","step":202,"weight":0.1},{"action":"B5","step":204,"weight":0.11},{"action":"B5","step":206,"weight":0.095},{"action":"B5","step":208,"weight":0.1},{"action":"B5","step":210,"weight":0.085},{"action":"B5","step":212,"weight":0.09},{"action":"B5","step":214,"weight":0.08},{"action":"B5","step":216,"weight":0.085},{"action":"B5","step":218,"weight":0.1},{"action":"B5","step":220,"weight":0.09},{"action":"B5","step":222,"weight":0.1},{"action":"B5","step":224,"weight":0.085},{"action":"B5","step":226,"weight":0.09},{"action":"B5","step":228,"weight":0.1},{"action":"B5","step":230,"weight":0.095},{"action":"B5","step":232,"weight":0.085},{"action":"B5","step":234,"weight":0.09},{"action":"B5","step":236,"weight":0.075},{"action":"B5","step":237,"weight":0.07},

      {"action":"B6","step":0,"weight":0.11},{"action":"B6","step":2,"weight":0.14},{"action":"B6","step":4,"weight":0.17},{"action":"B6","step":5,"weight":0.19},{"action":"B6","step":6,"weight":0.21},{"action":"B6","step":7,"weight":0.23},{"action":"B6","step":8,"weight":0.25},{"action":"B6","step":9,"weight":0.27},{"action":"B6","step":10.5,"weight":0.3},{"action":"B6","step":12,"weight":0.31},{"action":"B6","step":13,"weight":0.325},{"action":"B6","step":14,"weight":0.33},{"action":"B6","step":15,"weight":0.35},{"action":"B6","step":16,"weight":0.37},{"action":"B6","step":17,"weight":0.4},{"action":"B6","step":18,"weight":0.43},{"action":"B6","step":18.7,"weight":0.448},{"action":"B6","step":20,"weight":0.446},{"action":"B6","step":21,"weight":0.449},{"action":"B6","step":22,"weight":0.447},{"action":"B6","step":23,"weight":0.43},{"action":"B6","step":24,"weight":0.425},{"action":"B6","step":25,"weight":0.44},{"action":"B6","step":26,"weight":0.437},{"action":"B6","step":27,"weight":0.42},{"action":"B6","step":28,"weight":0.39},{"action":"B6","step":29,"weight":0.365},{"action":"B6","step":30.6,"weight":0.337},{"action":"B6","step":32,"weight":0.32},{"action":"B6","step":33,"weight":0.31},{"action":"B6","step":34,"weight":0.3},{"action":"B6","step":35,"weight":0.27},{"action":"B6","step":36,"weight":0.237},{"action":"B6","step":37,"weight":0.22},{"action":"B6","step":38,"weight":0.2},{"action":"B6","step":39,"weight":0.18},{"action":"B6","step":40,"weight":0.165},{"action":"B6","step":42,"weight":0.159},{"action":"B6","step":44,"weight":0.155},{"action":"B6","step":46,"weight":0.157},{"action":"B6","step":48,"weight":0.156},{"action":"B6","step":50.5,"weight":0.143},{"action":"B6","step":52,"weight":0.15},{"action":"B6","step":53.5,"weight":0.159},{"action":"B6","step":55,"weight":0.141},{"action":"B6","step":57.6,"weight":0.157},{"action":"B6","step":60.4,"weight":0.154},{"action":"B6","step":62.3,"weight":0.141},{"action":"B6","step":64,"weight":0.123},{"action":"B6","step":67,"weight":0.105},{"action":"B6","step":70,"weight":0.087},{"action":"B6","step":72,"weight":0.063},{"action":"B6","step":74,"weight":0.055},{"action":"B6","step":76,"weight":0.05},{"action":"B6","step":78,"weight":0.045},{"action":"B6","step":80,"weight":0.04},{"action":"B6","step":82,"weight":0.035},{"action":"B6","step":84,"weight":0.03},{"action":"B6","step":86,"weight":0.025},{"action":"B6","step":88,"weight":0.022},{"action":"B6","step":90,"weight":0.02},{"action":"B6","step":92,"weight":0.018},{"action":"B6","step":94,"weight":0.02},{"action":"B6","step":96,"weight":0.018},{"action":"B6","step":98,"weight":0.025},{"action":"B6","step":100,"weight":0.03},{"action":"B6","step":102,"weight":0.04},{"action":"B6","step":104,"weight":0.05},{"action":"B6","step":106,"weight":0.065},{"action":"B6","step":108,"weight":0.075},{"action":"B6","step":110,"weight":0.085},{"action":"B6","step":112,"weight":0.09},{"action":"B6","step":114,"weight":0.095},{"action":"B6","step":116,"weight":0.1},{"action":"B6","step":118.6,"weight":0.101},{"action":"B6","step":121,"weight":0.107},{"action":"B6","step":123.7,"weight":0.103},{"action":"B6","step":125.6,"weight":0.107},{"action":"B6","step":127.5,"weight":0.092},{"action":"B6","step":130,"weight":0.076},{"action":"B6","step":131.8,"weight":0.07},{"action":"B6","step":134,"weight":0.06},{"action":"B6","step":136,"weight":0.058},{"action":"B6","step":138,"weight":0.065},{"action":"B6","step":140,"weight":0.075},{"action":"B6","step":142,"weight":0.09},{"action":"B6","step":144,"weight":0.1},{"action":"B6","step":146,"weight":0.11},{"action":"B6","step":148,"weight":0.115},{"action":"B6","step":150,"weight":0.11},{"action":"B6","step":152,"weight":0.105},{"action":"B6","step":154,"weight":0.095},{"action":"B6","step":156,"weight":0.08},{"action":"B6","step":158,"weight":0.06},{"action":"B6","step":160,"weight":0.055},{"action":"B6","step":162,"weight":0.06},{"action":"B6","step":164,"weight":0.065},{"action":"B6","step":166,"weight":0.06},{"action":"B6","step":168,"weight":0.07},{"action":"B6","step":170,"weight":0.08},{"action":"B6","step":172,"weight":0.09},{"action":"B6","step":173.5,"weight":0.12},{"action":"B6","step":174.5,"weight":0.13},{"action":"B6","step":176,"weight":0.11},{"action":"B6","step":178,"weight":0.08},{"action":"B6","step":180,"weight":0.07},{"action":"B6","step":182,"weight":0.065},{"action":"B6","step":184,"weight":0.06},{"action":"B6","step":186,"weight":0.055},{"action":"B6","step":188,"weight":0.06},{"action":"B6","step":190,"weight":0.065},{"action":"B6","step":192,"weight":0.06},{"action":"B6","step":194,"weight":0.07},{"action":"B6","step":196,"weight":0.08},{"action":"B6","step":198,"weight":0.075},{"action":"B6","step":200,"weight":0.07},{"action":"B6","step":202,"weight":0.085},{"action":"B6","step":204,"weight":0.09},{"action":"B6","step":206,"weight":0.1},{"action":"B6","step":208,"weight":0.095},{"action":"B6","step":210,"weight":0.11},{"action":"B6","step":212,"weight":0.12},{"action":"B6","step":213.5,"weight":0.13},{"action":"B6","step":215,"weight":0.115},{"action":"B6","step":217,"weight":0.095},{"action":"B6","step":219,"weight":0.085},{"action":"B6","step":221,"weight":0.075},{"action":"B6","step":223,"weight":0.07},{"action":"B6","step":225,"weight":0.075},{"action":"B6","step":227,"weight":0.07},{"action":"B6","step":229,"weight":0.065},{"action":"B6","step":231,"weight":0.06},{"action":"B6","step":233,"weight":0.05},{"action":"B6","step":235,"weight":0.045},{"action":"B6","step":236,"weight":0.05},{"action":"B6","step":237,"weight":0.06},

      {"action":"B7","step":0,"weight":0.11},{"action":"B7","step":1,"weight":0.12},{"action":"B7","step":2,"weight":0.115},{"action":"B7","step":3,"weight":0.1},{"action":"B7","step":4,"weight":0.11},{"action":"B7","step":5,"weight":0.105},{"action":"B7","step":6,"weight":0.12},{"action":"B7","step":7,"weight":0.11},{"action":"B7","step":8,"weight":0.1},{"action":"B7","step":9,"weight":0.105},{"action":"B7","step":10.5,"weight":0.112},{"action":"B7","step":12.7,"weight":0.087},{"action":"B7","step":15,"weight":0.071},{"action":"B7","step":17,"weight":0.056},{"action":"B7","step":20,"weight":0.052},{"action":"B7","step":22.4,"weight":0.059},{"action":"B7","step":24.6,"weight":0.052},{"action":"B7","step":25.6,"weight":0.068},{"action":"B7","step":27,"weight":0.085},{"action":"B7","step":28,"weight":0.1},{"action":"B7","step":29,"weight":0.13},{"action":"B7","step":30,"weight":0.16},{"action":"B7","step":31,"weight":0.19},{"action":"B7","step":32,"weight":0.237},{"action":"B7","step":33,"weight":0.26},{"action":"B7","step":34,"weight":0.28},{"action":"B7","step":35,"weight":0.3},{"action":"B7","step":36,"weight":0.32},{"action":"B7","step":37.5,"weight":0.337},{"action":"B7","step":39.6,"weight":0.368},{"action":"B7","step":40.7,"weight":0.405},{"action":"B7","step":42,"weight":0.41},{"action":"B7","step":43,"weight":0.42},{"action":"B7","step":44,"weight":0.415},{"action":"B7","step":45,"weight":0.41},{"action":"B7","step":46,"weight":0.405},{"action":"B7","step":47,"weight":0.41},{"action":"B7","step":48,"weight":0.39},{"action":"B7","step":49,"weight":0.375},{"action":"B7","step":50,"weight":0.365},{"action":"B7","step":51,"weight":0.35},{"action":"B7","step":52,"weight":0.33},{"action":"B7","step":53,"weight":0.314},{"action":"B7","step":55,"weight":0.303},{"action":"B7","step":56.7,"weight":0.259},{"action":"B7","step":59,"weight":0.23},{"action":"B7","step":61,"weight":0.186},{"action":"B7","step":62.3,"weight":0.15},{"action":"B7","step":63.6,"weight":0.136},{"action":"B7","step":64.8,"weight":0.132},{"action":"B7","step":66.6,"weight":0.118},{"action":"B7","step":68,"weight":0.096},{"action":"B7","step":70,"weight":0.081},{"action":"B7","step":73.6,"weight":0.077},{"action":"B7","step":76,"weight":0.07},{"action":"B7","step":78.6,"weight":0.066},{"action":"B7","step":81,"weight":0.055},{"action":"B7","step":84,"weight":0.045},{"action":"B7","step":87,"weight":0.04},{"action":"B7","step":90,"weight":0.035},{"action":"B7","step":93,"weight":0.04},{"action":"B7","step":96,"weight":0.035},{"action":"B7","step":99,"weight":0.03},{"action":"B7","step":101,"weight":0.035},{"action":"B7","step":103,"weight":0.05},{"action":"B7","step":105,"weight":0.07},{"action":"B7","step":107,"weight":0.085},{"action":"B7","step":109,"weight":0.095},{"action":"B7","step":111,"weight":0.107},{"action":"B7","step":113.6,"weight":0.118},{"action":"B7","step":116.2,"weight":0.125},{"action":"B7","step":117.5,"weight":0.11},{"action":"B7","step":118.6,"weight":0.094},{"action":"B7","step":121,"weight":0.083},{"action":"B7","step":123.7,"weight":0.088},{"action":"B7","step":126.7,"weight":0.085},{"action":"B7","step":130,"weight":0.092},{"action":"B7","step":132,"weight":0.08},{"action":"B7","step":134,"weight":0.075},{"action":"B7","step":136,"weight":0.085},{"action":"B7","step":138,"weight":0.09},{"action":"B7","step":140,"weight":0.095},{"action":"B7","step":142,"weight":0.1},{"action":"B7","step":144,"weight":0.105},{"action":"B7","step":146,"weight":0.1},{"action":"B7","step":148,"weight":0.095},{"action":"B7","step":150,"weight":0.1},{"action":"B7","step":152,"weight":0.09},{"action":"B7","step":154,"weight":0.08},{"action":"B7","step":156,"weight":0.075},{"action":"B7","step":158,"weight":0.07},{"action":"B7","step":160,"weight":0.08},{"action":"B7","step":162,"weight":0.09},{"action":"B7","step":164,"weight":0.085},{"action":"B7","step":166,"weight":0.095},{"action":"B7","step":168,"weight":0.08},{"action":"B7","step":170,"weight":0.075},{"action":"B7","step":172,"weight":0.08},{"action":"B7","step":174,"weight":0.07},{"action":"B7","step":176,"weight":0.06},{"action":"B7","step":178,"weight":0.085},{"action":"B7","step":180,"weight":0.1},{"action":"B7","step":182,"weight":0.09},{"action":"B7","step":184,"weight":0.08},{"action":"B7","step":186,"weight":0.085},{"action":"B7","step":188,"weight":0.09},{"action":"B7","step":190,"weight":0.085},{"action":"B7","step":192,"weight":0.07},{"action":"B7","step":194,"weight":0.06},{"action":"B7","step":196,"weight":0.05},{"action":"B7","step":198,"weight":0.045},{"action":"B7","step":200,"weight":0.04},{"action":"B7","step":202,"weight":0.055},{"action":"B7","step":204,"weight":0.075},{"action":"B7","step":206,"weight":0.08},{"action":"B7","step":208,"weight":0.065},{"action":"B7","step":210,"weight":0.06},{"action":"B7","step":212,"weight":0.05},{"action":"B7","step":214,"weight":0.055},{"action":"B7","step":216,"weight":0.07},{"action":"B7","step":218,"weight":0.085},{"action":"B7","step":220,"weight":0.09},{"action":"B7","step":222,"weight":0.08},{"action":"B7","step":224,"weight":0.095},{"action":"B7","step":226,"weight":0.1},{"action":"B7","step":228,"weight":0.085},{"action":"B7","step":230,"weight":0.07},{"action":"B7","step":232,"weight":0.09},{"action":"B7","step":234,"weight":0.1},{"action":"B7","step":235,"weight":0.105},{"action":"B7","step":236,"weight":0.08},{"action":"B7","step":237,"weight":0.06},

      {"action":"B8","step":0,"weight":0.11},{"action":"B8","step":1,"weight":0.09},{"action":"B8","step":2,"weight":0.075},{"action":"B8","step":3,"weight":0.06},{"action":"B8","step":4,"weight":0.05},{"action":"B8","step":5,"weight":0.04},{"action":"B8","step":6,"weight":0.035},{"action":"B8","step":7,"weight":0.03},{"action":"B8","step":9,"weight":0.023},{"action":"B8","step":11,"weight":0.015},{"action":"B8","step":13,"weight":0.009},{"action":"B8","step":15.5,"weight":0.008},{"action":"B8","step":17.8,"weight":0.0065},{"action":"B8","step":20,"weight":0.006},{"action":"B8","step":22,"weight":0.004},{"action":"B8","step":24,"weight":0.002},{"action":"B8","step":25.3,"weight":0.006},{"action":"B8","step":27,"weight":0.004},{"action":"B8","step":29,"weight":0.002},{"action":"B8","step":31,"weight":0.003},{"action":"B8","step":33.6,"weight":0.004},{"action":"B8","step":36,"weight":0.006},{"action":"B8","step":38,"weight":0.009},{"action":"B8","step":40,"weight":0.012},{"action":"B8","step":43,"weight":0.016},{"action":"B8","step":46,"weight":0.021},{"action":"B8","step":49,"weight":0.032},{"action":"B8","step":51,"weight":0.04},{"action":"B8","step":53,"weight":0.05},{"action":"B8","step":55,"weight":0.055},{"action":"B8","step":56,"weight":0.059},{"action":"B8","step":58,"weight":0.09},{"action":"B8","step":60,"weight":0.123},{"action":"B8","step":62.3,"weight":0.159},{"action":"B8","step":64.8,"weight":0.19},{"action":"B8","step":66.6,"weight":0.23},{"action":"B8","step":69,"weight":0.23},{"action":"B8","step":70,"weight":0.235},{"action":"B8","step":72,"weight":0.214},{"action":"B8","step":73,"weight":0.205},{"action":"B8","step":75,"weight":0.23},{"action":"B8","step":76.8,"weight":0.247},{"action":"B8","step":79,"weight":0.246},{"action":"B8","step":80,"weight":0.235},{"action":"B8","step":82,"weight":0.248},{"action":"B8","step":83.5,"weight":0.243},{"action":"B8","step":84.3,"weight":0.234},{"action":"B8","step":85,"weight":0.223},{"action":"B8","step":86.7,"weight":0.216},{"action":"B8","step":88,"weight":0.186},{"action":"B8","step":88.6,"weight":0.161},{"action":"B8","step":89.5,"weight":0.132},{"action":"B8","step":91.8,"weight":0.129},{"action":"B8","step":93.7,"weight":0.116},{"action":"B8","step":94.8,"weight":0.103},{"action":"B8","step":97.4,"weight":0.096},{"action":"B8","step":99.9,"weight":0.088},{"action":"B8","step":103,"weight":0.083},{"action":"B8","step":106,"weight":0.083},{"action":"B8","step":107,"weight":0.07},{"action":"B8","step":109.8,"weight":0.074},{"action":"B8","step":112,"weight":0.081},{"action":"B8","step":114.9,"weight":0.103},{"action":"B8","step":116.7,"weight":0.116},{"action":"B8","step":118.6,"weight":0.108},{"action":"B8","step":121,"weight":0.121},{"action":"B8","step":123,"weight":0.132},{"action":"B8","step":124.9,"weight":0.15},{"action":"B8","step":126,"weight":0.143},{"action":"B8","step":127.5,"weight":0.145},{"action":"B8","step":128.6,"weight":0.125},{"action":"B8","step":130,"weight":0.107},{"action":"B8","step":132,"weight":0.096},{"action":"B8","step":134,"weight":0.085},{"action":"B8","step":136,"weight":0.096},{"action":"B8","step":138.7,"weight":0.103},{"action":"B8","step":140,"weight":0.114},{"action":"B8","step":142,"weight":0.105},{"action":"B8","step":144,"weight":0.09},{"action":"B8","step":146,"weight":0.08},{"action":"B8","step":148,"weight":0.07},{"action":"B8","step":150,"weight":0.065},{"action":"B8","step":152,"weight":0.07},{"action":"B8","step":154,"weight":0.075},{"action":"B8","step":156,"weight":0.08},{"action":"B8","step":158,"weight":0.09},{"action":"B8","step":160,"weight":0.085},{"action":"B8","step":162,"weight":0.075},{"action":"B8","step":164,"weight":0.07},{"action":"B8","step":166,"weight":0.065},{"action":"B8","step":168,"weight":0.06},{"action":"B8","step":170,"weight":0.055},{"action":"B8","step":172,"weight":0.058},{"action":"B8","step":174,"weight":0.055},{"action":"B8","step":176,"weight":0.06},{"action":"B8","step":178,"weight":0.058},{"action":"B8","step":180,"weight":0.08},{"action":"B8","step":182,"weight":0.11},{"action":"B8","step":183,"weight":0.115},{"action":"B8","step":184,"weight":0.1},{"action":"B8","step":186,"weight":0.085},{"action":"B8","step":188,"weight":0.07},{"action":"B8","step":190,"weight":0.06},{"action":"B8","step":192,"weight":0.055},{"action":"B8","step":194,"weight":0.045},{"action":"B8","step":196,"weight":0.05},{"action":"B8","step":198,"weight":0.055},{"action":"B8","step":200,"weight":0.05},{"action":"B8","step":202,"weight":0.06},{"action":"B8","step":204,"weight":0.07},{"action":"B8","step":206,"weight":0.065},{"action":"B8","step":208,"weight":0.06},{"action":"B8","step":210,"weight":0.065},{"action":"B8","step":212,"weight":0.06},{"action":"B8","step":214,"weight":0.065},{"action":"B8","step":216,"weight":0.06},{"action":"B8","step":218,"weight":0.065},{"action":"B8","step":220,"weight":0.07},{"action":"B8","step":222,"weight":0.065},{"action":"B8","step":224,"weight":0.06},{"action":"B8","step":226,"weight":0.055},{"action":"B8","step":228,"weight":0.05},{"action":"B8","step":230,"weight":0.055},{"action":"B8","step":232,"weight":0.07},{"action":"B8","step":233,"weight":0.09},{"action":"B8","step":234,"weight":0.11},{"action":"B8","step":235,"weight":0.105},{"action":"B8","step":236,"weight":0.095},{"action":"B8","step":237,"weight":0.09},

      {"action":"B9","step":0,"weight":0.11},{"action":"B9","step":1,"weight":0.1},{"action":"B9","step":2,"weight":0.09},{"action":"B9","step":3,"weight":0.075},{"action":"B9","step":4,"weight":0.06},{"action":"B9","step":5,"weight":0.045},{"action":"B9","step":6.6,"weight":0.028},{"action":"B9","step":9,"weight":0.03},{"action":"B9","step":11.6,"weight":0.028},{"action":"B9","step":13,"weight":0.02},{"action":"B9","step":14.8,"weight":0.014},{"action":"B9","step":17.8,"weight":0.021},{"action":"B9","step":19.5,"weight":0.018},{"action":"B9","step":21,"weight":0.014},{"action":"B9","step":24.2,"weight":0.01},{"action":"B9","step":27,"weight":0.014},{"action":"B9","step":30.4,"weight":0.012},{"action":"B9","step":32,"weight":0.015},{"action":"B9","step":34,"weight":0.017},{"action":"B9","step":36.6,"weight":0.014},{"action":"B9","step":39,"weight":0.018},{"action":"B9","step":41.7,"weight":0.02},{"action":"B9","step":44,"weight":0.022},{"action":"B9","step":46,"weight":0.025},{"action":"B9","step":48,"weight":0.02},{"action":"B9","step":50,"weight":0.009},{"action":"B9","step":51.5,"weight":0.012},{"action":"B9","step":53,"weight":0.016},{"action":"B9","step":55.4,"weight":0.017},{"action":"B9","step":57,"weight":0.02},{"action":"B9","step":59,"weight":0.023},{"action":"B9","step":61,"weight":0.028},{"action":"B9","step":63,"weight":0.03},{"action":"B9","step":64,"weight":0.04},{"action":"B9","step":65.5,"weight":0.025},{"action":"B9","step":67,"weight":0.03},{"action":"B9","step":69,"weight":0.035},{"action":"B9","step":71,"weight":0.045},{"action":"B9","step":72.5,"weight":0.038},{"action":"B9","step":74,"weight":0.05},{"action":"B9","step":75.5,"weight":0.04},{"action":"B9","step":77,"weight":0.045},{"action":"B9","step":78.5,"weight":0.06},{"action":"B9","step":79.8,"weight":0.066},{"action":"B9","step":81.5,"weight":0.08},{"action":"B9","step":83,"weight":0.088},{"action":"B9","step":84.8,"weight":0.105},{"action":"B9","step":86.7,"weight":0.099},{"action":"B9","step":88,"weight":0.132},{"action":"B9","step":89,"weight":0.179},{"action":"B9","step":90,"weight":0.197},{"action":"B9","step":91,"weight":0.196},{"action":"B9","step":92.3,"weight":0.185},{"action":"B9","step":94,"weight":0.197},{"action":"B9","step":95.5,"weight":0.205},{"action":"B9","step":96.7,"weight":0.215},{"action":"B9","step":98.5,"weight":0.225},{"action":"B9","step":100,"weight":0.235},{"action":"B9","step":101.5,"weight":0.25},{"action":"B9","step":102.7,"weight":0.257},{"action":"B9","step":104,"weight":0.245},{"action":"B9","step":105.5,"weight":0.228},{"action":"B9","step":107,"weight":0.216},{"action":"B9","step":108.7,"weight":0.188},{"action":"B9","step":110.5,"weight":0.168},{"action":"B9","step":111.7,"weight":0.147},{"action":"B9","step":113,"weight":0.15},{"action":"B9","step":114.9,"weight":0.139},{"action":"B9","step":116.7,"weight":0.129},{"action":"B9","step":118,"weight":0.134},{"action":"B9","step":120,"weight":0.135},{"action":"B9","step":121,"weight":0.143},{"action":"B9","step":122.4,"weight":0.129},{"action":"B9","step":123.7,"weight":0.125},{"action":"B9","step":124.9,"weight":0.11},{"action":"B9","step":126,"weight":0.118},{"action":"B9","step":127,"weight":0.107},{"action":"B9","step":128.6,"weight":0.125},{"action":"B9","step":130,"weight":0.161},{"action":"B9","step":131,"weight":0.15},{"action":"B9","step":133.6,"weight":0.161},{"action":"B9","step":136,"weight":0.148},{"action":"B9","step":138,"weight":0.154},{"action":"B9","step":140,"weight":0.121},{"action":"B9","step":141,"weight":0.103},{"action":"B9","step":143,"weight":0.095},{"action":"B9","step":145,"weight":0.1},{"action":"B9","step":147,"weight":0.11},{"action":"B9","step":149,"weight":0.1},{"action":"B9","step":151,"weight":0.085},{"action":"B9","step":153,"weight":0.09},{"action":"B9","step":155,"weight":0.08},{"action":"B9","step":157,"weight":0.085},{"action":"B9","step":159,"weight":0.075},{"action":"B9","step":161,"weight":0.07},{"action":"B9","step":163,"weight":0.08},{"action":"B9","step":165,"weight":0.07},{"action":"B9","step":167,"weight":0.065},{"action":"B9","step":169,"weight":0.07},{"action":"B9","step":171,"weight":0.065},{"action":"B9","step":173,"weight":0.07},{"action":"B9","step":175,"weight":0.085},{"action":"B9","step":176.5,"weight":0.12},{"action":"B9","step":177.5,"weight":0.125},{"action":"B9","step":179,"weight":0.1},{"action":"B9","step":181,"weight":0.085},{"action":"B9","step":183,"weight":0.07},{"action":"B9","step":185,"weight":0.065},{"action":"B9","step":187,"weight":0.075},{"action":"B9","step":189,"weight":0.1},{"action":"B9","step":190.5,"weight":0.11},{"action":"B9","step":192,"weight":0.09},{"action":"B9","step":194,"weight":0.08},{"action":"B9","step":196,"weight":0.075},{"action":"B9","step":198,"weight":0.08},{"action":"B9","step":200,"weight":0.07},{"action":"B9","step":202,"weight":0.075},{"action":"B9","step":204,"weight":0.065},{"action":"B9","step":206,"weight":0.055},{"action":"B9","step":207,"weight":0.05},{"action":"B9","step":209,"weight":0.075},{"action":"B9","step":211,"weight":0.08},{"action":"B9","step":213,"weight":0.07},{"action":"B9","step":215,"weight":0.065},{"action":"B9","step":217,"weight":0.07},{"action":"B9","step":219,"weight":0.08},{"action":"B9","step":221,"weight":0.075},{"action":"B9","step":223,"weight":0.065},{"action":"B9","step":225,"weight":0.07},{"action":"B9","step":227,"weight":0.06},{"action":"B9","step":229,"weight":0.065},{"action":"B9","step":231,"weight":0.055},{"action":"B9","step":233,"weight":0.06},{"action":"B9","step":235,"weight":0.05},{"action":"B9","step":236,"weight":0.055},{"action":"B9","step":237,"weight":0.05}
    ]
  },
  "data": {"name": "weights"},
  "mark": {"type": "line", "strokeWidth": 5, "strokeJoin": "round"},
  "encoding": {
    "x": {
      "field": "step",
      "type": "quantitative",
      "title": "Train step",
      "scale": {"domain": [-11.65, 250], "nice": false, "zero": false},
      "axis": {
        "values": [0, 50, 100, 150, 200, 250],
        "labelExpr": "datum.value == 0 ? '0' : datum.value >= 250 ? '' : datum.value + 'K'",
        "titlePadding": 16
      }
    },
    "y": {
      "field": "weight",
      "type": "quantitative",
      "title": "Softmax weight for action",
      "scale": {"domain": [-0.0224, 0.4714], "nice": false, "zero": false},
      "axis": {
        "values": [0, 0.1, 0.2, 0.3, 0.4],
        "format": ".1f",
        "titlePadding": 18
      }
    },
    "color": {
      "field": "action",
      "type": "nominal",
      "scale": {
        "domain": ["B0", "B1", "B2", "B3", "B4", "B5", "B6", "B7", "B8", "B9"],
        "range": ["#1f77b4", "#ff7f0e", "#2ca02c", "#d62728", "#9467bd", "#8c564b", "#e377c2", "#7f7f7f", "#bcbd22", "#17becf"]
      },
      "legend": {
        "title": null,
        "orient": "none",
        "legendX": 885,
        "legendY": 21,
        "direction": "vertical",
        "columns": 2,
        "symbolType": "M-1,0H3.3",
        "symbolSize": 1764,
        "symbolStrokeWidth": 5,
        "symbolFillColor": "transparent",
        "labelOffset": 73,
        "rowPadding": 17.5,
        "columnPadding": 71,
        "padding": 14,
        "fillColor": "white",
        "strokeColor": "#bbbbbb",
        "cornerRadius": 8
      }
    }
  }
}
